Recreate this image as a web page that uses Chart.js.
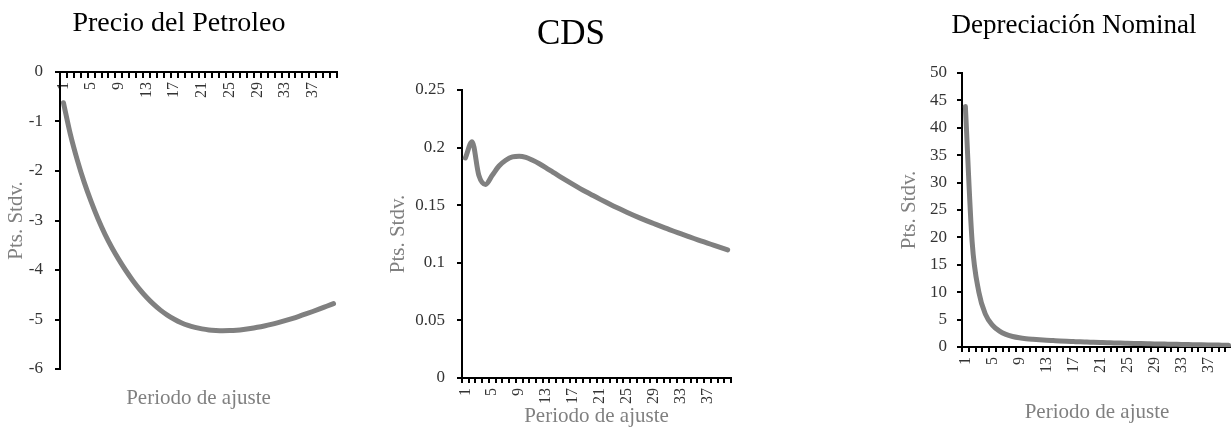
<!DOCTYPE html>
<html>
<head>
<meta charset="utf-8">
<script src="https://cdn.jsdelivr.net/npm/chart.js@4.4.0/dist/chart.umd.min.js"></script>
<style>
    html, body { margin: 0; padding: 0; background: #fff; width: 1231px; height: 429px; overflow: hidden; }
    canvas { position: absolute; top: 0; }
</style>
</head>
<body>
<canvas id="petroleoChart" width="358" height="429" style="left:0"></canvas>
<canvas id="cdsChart" width="410" height="429" style="left:366px"></canvas>
<canvas id="depChart" width="388" height="429" style="left:880px"></canvas>
<script>
// periodos de ajuste (eje x)
const periodos = ['1','2','3','4','5','6','7','8','9','10','11','12','13','14','15','16','17','18','19','20',
    '21','22','23','24','25','26','27','28','29','30','31','32','33','34','35','36','37','38','39','40'];

// Precio del Petroleo
const petroleo = [-0.62, -1.26, -1.78, -2.23, -2.62, -2.97, -3.28, -3.55, -3.79, -4.01,
    -4.21, -4.39, -4.55, -4.69, -4.81, -4.91, -4.995, -5.065, -5.12, -5.16,
    -5.19, -5.21, -5.22, -5.225, -5.223, -5.215, -5.201, -5.182, -5.158, -5.13,
    -5.098, -5.062, -5.023, -4.981, -4.936, -4.888, -4.838, -4.786, -4.733, -4.68];

// CDS
const cds = [0.191, 0.205, 0.176, 0.168, 0.176, 0.184, 0.189, 0.192, 0.1925, 0.1915,
    0.189, 0.186, 0.1825, 0.1788, 0.1751, 0.1715, 0.168, 0.1646, 0.1614, 0.1584,
    0.1553, 0.1523, 0.1494, 0.1466, 0.1439, 0.1413, 0.1388, 0.1364, 0.1341, 0.1318,
    0.1296, 0.1274, 0.1253, 0.1232, 0.1211, 0.1191, 0.1171, 0.1151, 0.1131, 0.1112];

// Depreciación Nominal
const depreciacion = [43.9, 19.2, 10.0, 5.9, 4.0, 2.95, 2.3, 1.92, 1.68, 1.52,
    1.41, 1.32, 1.24, 1.17, 1.1, 1.04, 0.99, 0.94, 0.9, 0.86,
    0.82, 0.78, 0.75, 0.71, 0.68, 0.65, 0.62, 0.59, 0.56, 0.54,
    0.51, 0.49, 0.47, 0.44, 0.42, 0.4, 0.38, 0.36, 0.34, 0.32];

Chart.defaults.font.family = "'Liberation Serif', 'Times New Roman', serif";
Chart.defaults.animation = false;

const lineColor = '#808080';
const labelColor = '#333333';
const axisTitleColor = '#808080';

function lineDataset(data) {
    return {
        data: data,
        borderColor: lineColor,
        borderWidth: 5,
        borderCapStyle: 'round',
        pointRadius: 0,
        fill: false,
        cubicInterpolationMode: 'monotone'
    };
}

// eje x de categorías, etiqueta cada 4 periodos
function xAxis(extra) {
    return Object.assign({
        type: 'category',
        offset: true,
        border: { display: true, color: '#000', width: 2 },
        grid: { display: true, offset: true, drawOnChartArea: false, drawTicks: true, tickLength: 5, color: '#000', lineWidth: 2 },
        ticks: {
            autoSkip: false,
            minRotation: 90,
            maxRotation: 90,
            padding: 5,
            color: labelColor,
            font: { size: 16 },
            callback: function (val, idx) { return idx % 4 === 0 ? this.getLabelForValue(val) : ''; }
        }
    }, extra);
}

function yAxis(min, max, step, width, titlePad, tickPad) {
    return {
        type: 'linear',
        position: 'left',
        min: min,
        max: max,
        border: { display: true, color: '#000', width: 2 },
        grid: { display: true, drawOnChartArea: false, drawTicks: true, tickLength: 5, color: '#000', lineWidth: 2 },
        ticks: {
            stepSize: step,
            padding: tickPad,
            color: labelColor,
            font: { size: 17 },
            callback: v => String(Number(v.toFixed(2)))
        },
        title: { display: true, text: 'Pts. Stdv.', color: axisTitleColor, font: { size: 21 }, padding: { top: titlePad, bottom: 0 } },
        afterFit: s => { s.width = width; }
    };
}

// margen a la derecha del área del gráfico (el título sigue centrado en todo el canvas)
function margen(width) {
    return {
        type: 'linear',
        position: 'right',
        display: true,
        border: { display: false },
        grid: { display: false },
        ticks: { display: false },
        afterFit: s => { s.width = width; }
    };
}

// Precio del Petroleo: eje x cruzando en 0 (arriba)
new Chart(document.getElementById('petroleoChart'), {
    type: 'line',
    data: { labels: periodos, datasets: [lineDataset(petroleo)] },
    options: {
        responsive: false,
        layout: { padding: 0 },
        plugins: {
            legend: { display: false },
            tooltip: { enabled: false },
            title: { display: true, text: 'Precio del Petroleo', color: '#000', font: { size: 28, weight: 'normal' }, padding: { top: 7.2, bottom: 31.2 } },
            subtitle: { display: true, position: 'bottom', fullSize: false, text: 'Periodo de ajuste', color: axisTitleColor, font: { size: 21 }, padding: { top: 16.4, bottom: 18.4 } }
        },
        scales: {
            x: xAxis({ position: { y: 0 } }),
            y: yAxis(-6, 0, 1, 60, 3.4, 12),
            margen: margen(19)
        }
    }
});

// CDS
const cdsX = xAxis({ position: 'bottom' });
cdsX.title = { display: true, text: 'Periodo de ajuste', color: axisTitleColor, font: { size: 21 }, padding: { top: 0, bottom: 0 } };
cdsX.afterFit = s => { s.height = 51; };
new Chart(document.getElementById('cdsChart'), {
    type: 'line',
    data: { labels: periodos, datasets: [lineDataset(cds)] },
    options: {
        responsive: false,
        layout: { padding: 0 },
        plugins: {
            legend: { display: false },
            tooltip: { enabled: false },
            title: { display: true, text: 'CDS', color: '#000', font: { size: 35, weight: 'normal' }, padding: { top: 14, bottom: 34 } }
        },
        scales: {
            x: cdsX,
            y: yAxis(0, 0.25, 0.05, 96, 19.4, 12),
            margen: margen(45)
        }
    }
});

// Depreciación Nominal
const depX = xAxis({ position: 'bottom' });
depX.title = { display: true, text: 'Periodo de ajuste', color: axisTitleColor, font: { size: 21 }, padding: { top: 0, bottom: 3.8 } };
depX.afterFit = s => { s.height = 82; };
new Chart(document.getElementById('depChart'), {
    type: 'line',
    data: { labels: periodos, datasets: [lineDataset(depreciacion)] },
    options: {
        responsive: false,
        layout: { padding: 0 },
        plugins: {
            legend: { display: false },
            tooltip: { enabled: false },
            title: { display: true, text: 'Depreciación Nominal', color: '#000', font: { size: 27, weight: 'normal' }, padding: { top: 9.3, bottom: 31.3 } }
        },
        scales: {
            x: depX,
            y: yAxis(0, 50, 5, 82, 16.4, 10),
            margen: margen(36)
        }
    }
});
</script>
</body>
</html>
